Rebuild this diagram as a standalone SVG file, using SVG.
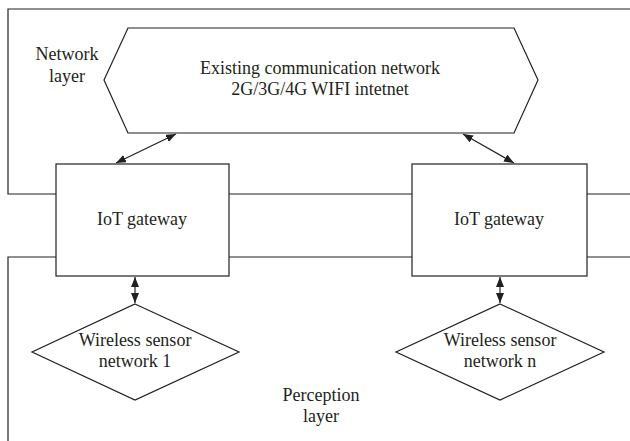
<svg xmlns="http://www.w3.org/2000/svg" width="630" height="441" viewBox="0 0 630 441">
  <style>
    .ln { fill: none; stroke: #231f20; stroke-width: 1.2; }
    .shape { fill: #ffffff; stroke: #231f20; stroke-width: 1.2; }
    .conn { fill: none; stroke: #231f20; stroke-width: 1.2; marker-start: url(#head); marker-end: url(#head); }
    text { font-family: "Liberation Serif", "Times New Roman", serif; font-size: 18px; fill: #231f20; text-anchor: middle; }
  </style>
  <defs>
    <marker id="head" viewBox="0 0 10 8" refX="10" refY="4" markerWidth="10" markerHeight="8" markerUnits="userSpaceOnUse" orient="auto-start-reverse">
      <path d="M0,0 L10,4 L0,8 Z" fill="#231f20"/>
    </marker>
  </defs>
  <rect width="630" height="441" fill="#ffffff"/>

  <!-- layer boundaries -->
  <g id="layers">
    <path class="ln" d="M630,9 H8 V194 H56"/>
    <path class="ln" d="M229,194 H412 M587,194 H630"/>
    <path class="ln" d="M56,257 H8 V441"/>
    <path class="ln" d="M229,257 H412 M587,257 H630"/>
    <text x="67" y="60">Network</text>
    <text x="67" y="82">layer</text>
    <text x="321" y="401">Perception</text>
    <text x="321" y="422">layer</text>
  </g>

  <g id="network">
    <polygon class="shape" points="128,28 514,28 538,80 514,133 128,133 104,80"/>
    <text x="320" y="74">Existing communication network</text>
    <text x="320" y="95">2G/3G/4G WIFI intetnet</text>
  </g>

  <g id="gateway1">
    <rect class="shape" x="56" y="164" width="173" height="112"/>
    <text x="142" y="225">IoT gateway</text>
  </g>

  <g id="gateway2">
    <rect class="shape" x="412" y="164" width="175" height="112"/>
    <text x="499" y="225">IoT gateway</text>
  </g>

  <g id="wsn1">
    <polygon class="shape" points="135,304 239,352 135,400 32,352"/>
    <text x="135" y="346">Wireless sensor</text>
    <text x="135" y="367">network 1</text>
  </g>

  <g id="wsnn">
    <polygon class="shape" points="500,304 604,352 500,400 396,352"/>
    <text x="500" y="346">Wireless sensor</text>
    <text x="500" y="367">network n</text>
  </g>

  <g id="connectors">
    <line class="conn" x1="116" y1="163" x2="176" y2="134"/>
    <line class="conn" x1="463" y1="134" x2="514" y2="163"/>
    <line class="conn" x1="135" y1="277" x2="135" y2="303"/>
    <line class="conn" x1="500" y1="277" x2="500" y2="303"/>
  </g>
</svg>
